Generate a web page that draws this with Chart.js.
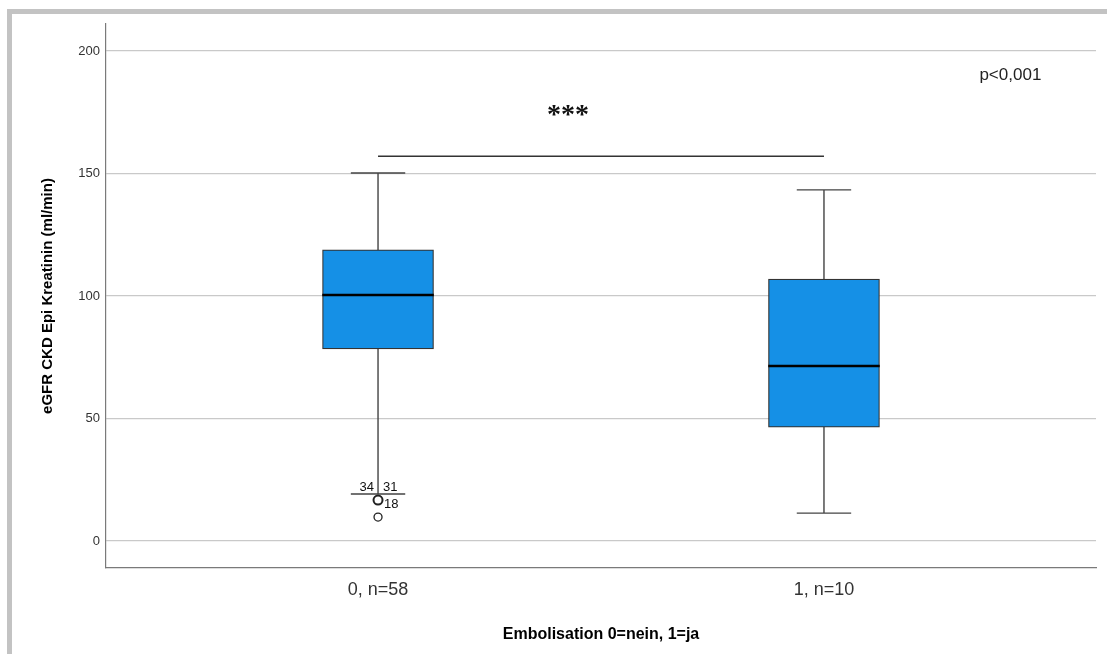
<!DOCTYPE html>
<html>
<head>
<meta charset="utf-8">
<script src="https://cdn.jsdelivr.net/npm/chart.js@4.4.1/dist/chart.umd.min.js"></script>
<style>
  html, body { margin: 0; padding: 0; background: #fff; }
  #wrap { position: relative; width: 1107px; height: 654px; overflow: hidden; }
  #frame { position: absolute; left: 7px; top: 9px; right: -20px; bottom: -20px;
           border-top: 5px solid #c3c3c3; border-left: 5px solid #c3c3c3; }
  #chart { position: absolute; left: 0; top: 0; }
</style>
</head>
<body>
<div id="wrap">
  <div id="frame"></div>
  <canvas id="chart" width="1107" height="654"></canvas>
</div>
<script>
// Gruppen und Kennwerte der Boxplots
const groupLabels = ['0, n=58', '1, n=10'];
const q1Values = [78.4, 46.5];
const medianValues = [100.4, 71.4];
const q3Values = [118.8, 106.9];
const whiskerLow = [19.2, 11.4];
const whiskerHigh = [150.2, 143.3];
const outlierGroup = [0, 0];
const outlierValues = [16.7, 9.8];
const yTickValues = [0, 50, 100, 150, 200];

const boxHalf = 0.125;
const capHalf = 0.061;
const gap = { x: null, y: null };

// Whisker-Linien inkl. Querstriche
const whiskerData = [];
groupLabels.forEach((g, i) => {
    whiskerData.push({ x: i, y: q3Values[i] }, { x: i, y: whiskerHigh[i] }, gap);
    whiskerData.push({ x: i, y: q1Values[i] }, { x: i, y: whiskerLow[i] }, gap);
    whiskerData.push({ x: i - capHalf, y: whiskerHigh[i] }, { x: i + capHalf, y: whiskerHigh[i] }, gap);
    whiskerData.push({ x: i - capHalf, y: whiskerLow[i] }, { x: i + capHalf, y: whiskerLow[i] }, gap);
});

// Medianlinien
const medianData = [];
groupLabels.forEach((g, i) => {
    medianData.push({ x: i - boxHalf, y: medianValues[i] }, { x: i + boxHalf, y: medianValues[i] }, gap);
});

// Signifikanzbalken zwischen den Gruppen
const sigLevel = 157;
const sigData = [{ x: 0, y: sigLevel }, { x: 1, y: sigLevel }];

const font = "'Liberation Sans', Arial, sans-serif";

// Texte im Diagramm (Sterne, p-Wert, Fallnummern)
const textPlugin = {
    id: 'textPlugin',
    afterDatasetsDraw(chart) {
        const ctx = chart.ctx;
        const xs = chart.scales.x;
        const ys = chart.scales.y;
        ctx.save();
        ctx.fillStyle = '#111';
        ctx.textAlign = 'center';
        ctx.textBaseline = 'middle';
        ctx.font = "bold 28px 'Liberation Serif', 'DejaVu Serif', serif";
        ctx.fillText('***', xs.getPixelForValue(0.426), ys.getPixelForValue(173.5));

        ctx.font = '17px ' + font;
        ctx.fillStyle = '#222';
        ctx.fillText('p<0,001', xs.getPixelForValue(1.418), ys.getPixelForValue(190));

        ctx.font = '13px ' + font;
        ctx.fillStyle = '#111';
        const cx = xs.getPixelForValue(0);
        const wy = ys.getPixelForValue(whiskerLow[0]);
        ctx.textAlign = 'right';
        ctx.fillText('34', cx - 4, wy - 7);
        ctx.textAlign = 'left';
        ctx.fillText('31', cx + 5, wy - 7);
        ctx.fillText('18', cx + 6, ys.getPixelForValue(outlierValues[0]) + 4);
        ctx.restore();
    }
};

new Chart(document.getElementById('chart').getContext('2d'), {
    type: 'bar',
    data: {
        datasets: [
            {
                type: 'line',
                data: medianData,
                borderColor: '#000',
                borderWidth: 2.5,
                pointRadius: 0,
                spanGaps: false,
                order: 0
            },
            {
                type: 'scatter',
                data: outlierValues.map((v, i) => ({ x: outlierGroup[i], y: v })),
                pointStyle: 'circle',
                pointRadius: [4.5, 4],
                pointBorderWidth: [2, 1.3],
                pointBorderColor: '#222',
                pointBackgroundColor: '#fff',
                order: 1
            },
            {
                type: 'bar',
                data: groupLabels.map((g, i) => ({ x: i, y: [q1Values[i], q3Values[i]] })),
                backgroundColor: '#1590e6',
                borderColor: '#333',
                borderWidth: 1.2,
                borderSkipped: false,
                barThickness: 111,
                order: 2
            },
            {
                type: 'line',
                data: whiskerData,
                borderColor: '#444',
                borderWidth: 1.4,
                pointRadius: 0,
                spanGaps: false,
                order: 3
            },
            {
                type: 'line',
                data: sigData,
                borderColor: '#333',
                borderWidth: 1.5,
                pointRadius: 0,
                order: 3
            }
        ]
    },
    options: {
        responsive: false,
        animation: false,
        events: [],
        layout: { padding: { top: 24, right: 11, left: 0, bottom: 0 } },
        plugins: {
            legend: { display: false },
            tooltip: { enabled: false }
        },
        scales: {
            x: {
                type: 'linear',
                min: -0.61,
                max: 1.61,
                offset: false,
                afterBuildTicks: scale => { scale.ticks = groupLabels.map((g, i) => ({ value: i })); },
                afterFit: scale => { scale.height = 86; },
                ticks: {
                    padding: 11,
                    color: '#333',
                    font: { family: font, size: 18 },
                    callback: v => groupLabels[v]
                },
                grid: { display: false, drawTicks: false },
                border: { display: true, color: '#7a7a7a', width: 1.2 },
                title: {
                    display: true,
                    text: 'Embolisation 0=nein, 1=ja',
                    color: '#000',
                    font: { family: font, size: 16, weight: 'bold' },
                    padding: { top: 0, bottom: 10 }
                }
            },
            y: {
                min: -11,
                max: 211,
                afterBuildTicks: scale => { scale.ticks = yTickValues.map(v => ({ value: v })); },
                afterFit: scale => { scale.width = 106; },
                ticks: {
                    padding: 6,
                    color: '#333',
                    font: { family: font, size: 13 }
                },
                grid: { color: '#c9c9c9', lineWidth: 1.2, drawTicks: false },
                border: { display: true, color: '#7a7a7a', width: 1.2 },
                title: {
                    display: true,
                    text: 'eGFR CKD Epi Kreatinin (ml/min)',
                    color: '#000',
                    font: { family: font, size: 15, weight: 'bold' },
                    padding: { top: 39 }
                }
            }
        }
    },
    plugins: [textPlugin]
});
</script>
</body>
</html>
